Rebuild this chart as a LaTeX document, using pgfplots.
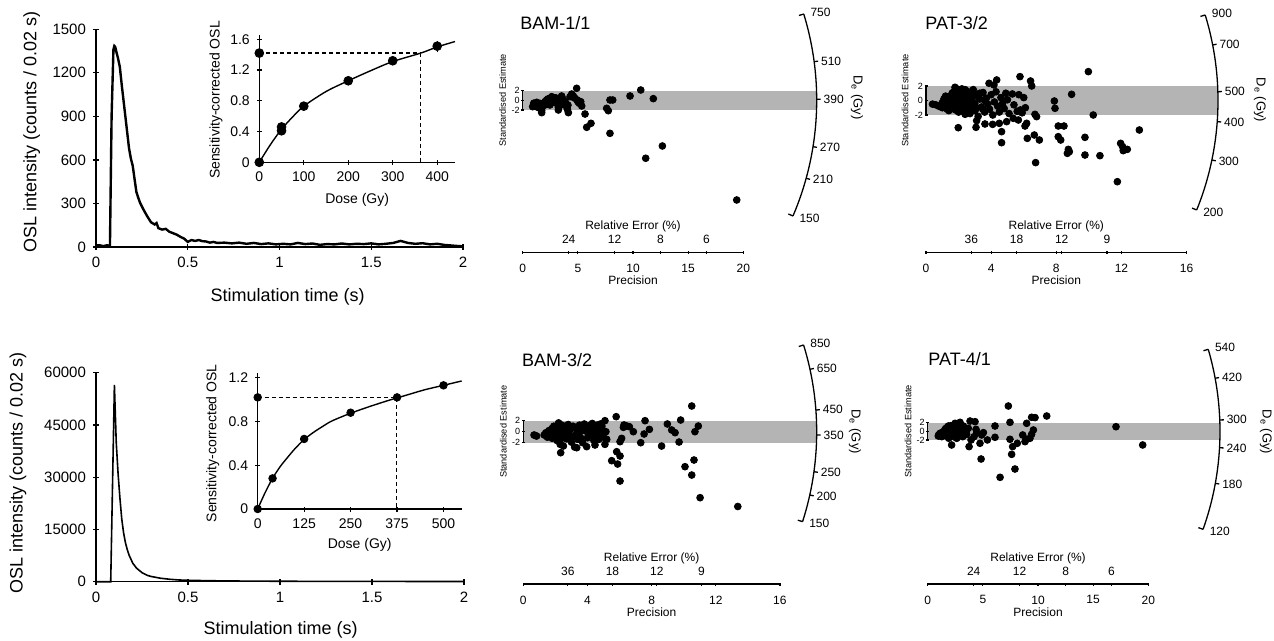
\documentclass[border=0pt]{standalone}
\usepackage{fontspec}
\setmainfont{Liberation Sans}
\usepackage{pgfplots}
\pgfplotsset{compat=1.18}

\definecolor{bandgray}{RGB}{180,180,180}
\newcommand{\fs}[1]{\fontsize{#1}{#1}\selectfont}

\pgfplotsset{
  mybase/.style={scale only axis, clip=false,
    /pgf/number format/assume math mode=true,
    /pgf/number format/1000 sep={},
    scaled ticks=false,
    tick align=outside,
    tick style={black, line width=0.6pt},
  },
  noarrow/.style={axis line style={-, line width=0.6pt},
    every outer x axis line/.append style={-},
    every outer y axis line/.append style={-}},
  decay/.style={mybase, axis lines=left, noarrow, major tick length=3pt,
    ticklabel style={font=\fs{7.5}},
    label style={font=\fs{9}},
  },
  inset/.style={mybase, axis lines=left, noarrow, major tick length=2.5pt,
    ticklabel style={font=\fs{7}},
    label style={font=\fs{7}},
  },
  cloud/.style={mybase, hide axis},
  bracket/.style={mybase, axis x line=none, axis y line=left, noarrow,
    xmin=0, xmax=1, ymin=-2, ymax=2, width=1pt, ytick={-2,0,2},
    major tick length=1.5pt,
    yticklabel style={font=\fs{4.5}, inner sep=0.6pt},
  },
  prec/.style={mybase, axis x line=bottom, axis y line=none, noarrow,
    ymin=0, ymax=1, height=5pt, major tick length=1.5pt,
    xticklabel style={font=\fs{6}, anchor=center, yshift=-7.2pt},
    xlabel={Precision},
    every axis x label/.style={at={(axis description cs:0.5,0)},
      anchor=center, yshift=-14.2pt, font=\fs{6}},
  },
  relerr/.style={mybase, axis x line=top, axis y line=none, noarrow,
    ymin=0, ymax=1, height=5pt, major tick length=1.5pt,
    xticklabel style={font=\fs{6}, anchor=center, yshift=5.8pt},
    xlabel={Relative Error (\%)},
    every axis x label/.style={at={(axis description cs:0.5,1)},
      anchor=center, yshift=12.8pt, font=\fs{6}},
  },
  raddot/.style={only marks, mark=*, mark size=1.7pt, black},
}

% radial-plot De scale: #1 centre, #2 radius (pt), #3/#4 top angle/label,
% #5/#6 bottom angle/label, #7 inner ticks angle/label
\newcommand{\radarc}[7]{%
\begin{scope}[shift={#1}]
  \pgfmathsetmacro\Ro{#2}
  \pgfmathsetmacro\Rin{#2-2.5}
  \pgfmathsetmacro\Rout{#2+2}
  \pgfmathsetmacro\Rlab{#2+2.8}
  \draw[line width=0.65pt] (#3:\Ro pt) arc[start angle=#3, end angle=#5, radius=\Ro pt];
  \draw[line width=0.65pt] (#3:\Ro pt) -- (#3:\Rin pt);
  \draw[line width=0.65pt] (#5:\Ro pt) -- (#5:\Rin pt);
  \node[anchor=west, font=\fs{6}, inner sep=0.5pt] at (#3:\Rlab pt) {#4};
  \node[anchor=west, font=\fs{6}, inner sep=0.5pt] at (#5:\Rlab pt) {#6};
  \foreach \a/\l in {#7} {
    \draw[line width=0.65pt] (\a:\Ro pt) -- (\a:\Rout pt);
    \node[anchor=west, font=\fs{6}, inner sep=0.5pt] at (\a:\Rlab pt) {\l};
  }
\end{scope}}

\newcommand{\stdlabel}[1]{\node[rotate=90, font=\fs{4.6}] at #1 {Standardised Estimate};}

\begin{document}
\begin{tikzpicture}
\useasboundingbox (0,0) rectangle (637pt,-320.5pt);

% ---------- top decay curve ----------
\begin{axis}[decay, at={(48pt,-123.5pt)}, anchor=south west,
  width=183.5pt, height=108.85pt,
  xmin=0, xmax=2, ymin=0, ymax=1500,
  xtick={0,0.5,1,1.5,2}, ytick={0,300,600,900,1200,1500},
  xlabel={Stimulation time (s)}, ylabel={OSL intensity (counts / 0.02 s)},
  xlabel style={at={(axis description cs:0.522,-0.228)}, anchor=center},
  ylabel style={at={(axis description cs:-0.175,0.53)}, anchor=center},
]
\addplot[black, line width=1.2pt] coordinates {
(0,10)(0.02,12)(0.04,6)(0.06,12)(0.076,8)(0.085,900)(0.095,1360)(0.1,1385)(0.105,1378)
(0.11,1350)(0.12,1300)(0.13,1240)(0.14,1120)(0.15,1010)(0.16,900)(0.17,790)(0.18,680)
(0.19,610)(0.2,560)(0.21,470)(0.22,380)(0.23,340)(0.24,305)(0.26,255)(0.28,210)(0.3,170)
(0.32,155)(0.33,165)(0.34,130)(0.36,120)(0.38,125)(0.4,105)(0.42,95)(0.44,85)(0.46,70)
(0.48,58)(0.5,35)(0.52,48)(0.54,42)(0.56,48)(0.58,40)(0.6,38)(0.62,30)(0.64,35)(0.66,28)
(0.7,30)(0.74,25)(0.78,30)(0.82,22)(0.86,28)(0.9,20)(0.94,25)(0.98,18)(1.02,22)(1.06,18)
(1.1,28)(1.14,20)(1.18,24)(1.22,15)(1.26,20)(1.3,18)(1.34,24)(1.38,18)(1.42,22)(1.46,20)
(1.5,25)(1.54,18)(1.58,22)(1.62,28)(1.66,42)(1.7,28)(1.74,22)(1.78,26)(1.82,18)(1.86,22)
(1.9,14)(1.94,10)(1.98,6)(2.0,5)};
\end{axis}

% ---------- top inset: dose response ----------
\begin{axis}[inset, at={(129.65pt,-81.15pt)}, anchor=south west,
  width=97.85pt, height=63.45pt,
  xmin=0, xmax=440, ymin=0, ymax=1.65,
  xtick={0,100,200,300,400}, ytick={0,0.4,0.8,1.2,1.6},
  xlabel={Dose (Gy)}, ylabel={Sensitivity-corrected OSL},
  xlabel style={at={(axis description cs:0.5,-0.297)}, anchor=center},
  ylabel style={at={(axis description cs:-0.221,0.491)}, anchor=center},
]
\addplot[black, line width=0.6pt, dash pattern=on 2pt off 1.5pt] coordinates {(0,1.42)(363,1.42)(363,0)};
\addplot[black, line width=0.7pt, smooth] coordinates {
(0,0)(25,0.23)(50,0.43)(75,0.59)(100,0.73)(150,0.92)(200,1.06)(250,1.19)(300,1.31)(363,1.42)(400,1.50)(440,1.57)};
\addplot[only marks, mark=*, mark size=2.2pt, black,
  error bars/.cd, y dir=both, y explicit, error mark=none,
  error bar style={line width=0.7pt, black}] coordinates {
(0,0) +- (0,0)
(50,0.41) +- (0,0.02)
(50,0.46) +- (0,0.02)
(100,0.73) +- (0,0.02)
(200,1.06) +- (0,0.05)
(300,1.32) +- (0,0.06)
(400,1.51) +- (0,0.07)
(0,1.42) +- (0,0)};
\end{axis}

% ---------- bottom decay curve ----------
\begin{axis}[decay, at={(48pt,-290.85pt)}, anchor=south west,
  width=184pt, height=104.5pt,
  xmin=0, xmax=2, ymin=0, ymax=60000,
  xtick={0,0.5,1,1.5,2}, ytick={0,15000,30000,45000,60000},
  xlabel={Stimulation time (s)}, ylabel={OSL intensity (counts / 0.02 s)},
  xlabel style={at={(axis description cs:0.502,-0.231)}, anchor=center},
  ylabel style={at={(axis description cs:-0.212,0.519)}, anchor=center},
]
\addplot[black, line width=0.8pt] coordinates {
(0,0)(0.08,0)(0.1,56500)(0.11,40000)(0.12,31000)(0.13,24000)(0.14,18000)(0.15,14000)
(0.16,11200)(0.17,9200)(0.18,7600)(0.2,5300)(0.22,3900)(0.25,2600)(0.28,1800)(0.3,1500)
(0.35,1000)(0.4,700)(0.45,500)(0.5,400)(0.6,300)(0.7,220)(0.8,180)(1,130)(1.2,100)
(1.5,80)(2,60)};
\end{axis}

% ---------- bottom inset ----------
\begin{axis}[inset, at={(128.85pt,-254.5pt)}, anchor=south west,
  width=102pt, height=67.85pt,
  xmin=0, xmax=549, ymin=0, ymax=1.24,
  xtick={0,125,250,375,500}, ytick={0,0.4,0.8,1.2},
  xlabel={Dose (Gy)}, ylabel={Sensitivity-corrected OSL},
  xlabel style={at={(axis description cs:0.5,-0.265)}, anchor=center},
  ylabel style={at={(axis description cs:-0.22,0.484)}, anchor=center},
]
\addplot[black, line width=0.6pt, dash pattern=on 2pt off 1.5pt] coordinates {(0,1.02)(374,1.02)(374,0)};
\addplot[black, line width=0.7pt, smooth] coordinates {
(0,0)(20,0.15)(40,0.28)(60,0.385)(80,0.47)(100,0.55)(125,0.635)(150,0.70)(175,0.755)
(200,0.805)(250,0.875)(300,0.935)(350,0.99)(375,1.015)(400,1.04)(450,1.09)(500,1.13)(549,1.17)};
\addplot[only marks, mark=*, mark size=1.9pt, black] coordinates {
(0,0)(40,0.28)(125,0.64)(250,0.88)(375,1.02)(500,1.13)(0,1.02)};
\end{axis}

% ---------- BAM-1/1 ----------
\begin{axis}[cloud, at={(261.35pt,-110.525pt)}, anchor=south west,
  width=147pt, height=96.6pt, xmin=0, xmax=26.65, ymin=-25, ymax=15]
\addplot[fill=bandgray, draw=none] coordinates {(0,-2)(26.65,-2)(26.65,2)(0,2)} -- cycle;
\addplot[raddot] coordinates {
(0.90,-1.32)(1.12,-0.84)(1.27,-0.42)(1.42,-1.18)(1.57,-0.63)(1.57,-1.66)(1.72,-2.15)
(1.72,-2.56)(2.02,-0.28)(2.17,0.06)(2.32,-0.63)(2.47,0.41)(2.47,-0.97)(2.63,0.75)
(2.78,-0.28)(2.93,0.20)(3.08,-0.63)(3.23,-1.46)(3.23,-2.01)(3.38,0.41)(3.53,0.89)
(3.68,0.20)(3.83,-0.28)(3.93,-0.63)(3.99,-1.32)(4.05,-1.87)(4.14,-2.56)(4.29,0.75)
(4.44,1.30)(4.59,0.89)(4.74,0.41)(4.89,2.48)(4.95,0.06)(5.13,-0.63)(5.26,-0.28)
(5.35,-1.18)(5.65,-2.84)(5.80,-5.59)(6.19,-4.77)(7.61,-1.66)(7.76,-2.15)(7.91,0.06)
(8.16,0.06)(7.91,-6.84)(9.73,0.89)(10.70,2.13)(11.84,0.34)(12.66,-9.46)(11.15,-12.00)
(19.40,-20.64)(1.00,-0.60)(1.90,-1.00)(2.10,-0.90)(2.60,-0.50)(3.00,0.50)(3.50,-0.60)
(2.30,0.30)(2.80,0.50)(1.30,-1.40)(3.70,-0.90)(4.10,-1.00)(5.00,-0.30)(4.60,0.60)
(2.00,-0.70)(2.70,0.10)(3.20,-0.20)(3.40,-1.00)(1.80,-1.30)};
\end{axis}
\begin{axis}[bracket, at={(261.35pt,-54.98pt)}, anchor=south west, height=9.66pt]
\end{axis}
\begin{axis}[prec, at={(261.35pt,-126.15pt)}, anchor=south west,
  width=110.3pt, xmin=0, xmax=20, xtick={0,5,10,15,20}]
\end{axis}
\begin{axis}[relerr, at={(261.35pt,-126.15pt)}, anchor=north west,
  width=110.3pt, xmin=0, xmax=20, xtick={4.17,8.33,12.5,16.67}, xticklabels={24,12,8,6}]
\end{axis}

% ---------- PAT-3/2 ----------
\begin{axis}[cloud, at={(463pt,-104.625pt)}, anchor=south west,
  width=146pt, height=90.625pt, xmin=0, xmax=17.93, ymin=-15, ymax=10]
\addplot[fill=bandgray, draw=none] coordinates {(0,-2)(17.93,-2)(17.93,2)(0,2)} -- cycle;
\addplot[raddot] coordinates {
(0.4,-0.5)(0.6,-0.6)(0.8,-0.8)(1.0,-0.3)(1.0,-1.0)(1.1,0.2)(1.2,-0.6)(1.3,-1.2)(1.4,0.1)
(1.4,-0.4)(1.5,0.6)(1.5,-1.0)(1.6,-0.2)(1.6,1.0)(1.7,0.3)(1.7,-0.8)(1.8,1.4)(1.8,-1.3)
(1.9,0.0)(1.9,0.8)(2.0,-0.5)(2.0,1.2)(2.1,0.4)(2.1,-1.0)(2.2,1.6)(2.2,-0.2)(2.3,0.9)
(2.3,-1.5)(2.4,0.2)(2.4,-0.7)(2.5,1.3)(2.5,-1.2)(2.6,0.5)(2.6,-0.3)(2.7,1.0)(2.7,-1.8)
(2.8,0.0)(2.8,-0.9)(2.9,1.5)(3.0,-0.4)(3.0,-1.4)(3.1,0.6)(3.2,-2.2)(3.3,0.2)(3.4,-0.9)
(3.5,1.1)(3.6,-1.6)(3.7,0.3)(3.8,-0.5)(3.9,-1.2)(4.0,0.8)(4.1,-2.0)(4.2,-0.2)(4.3,1.2)
(4.4,-0.8)(4.5,-1.6)(4.6,0.4)(4.7,-0.4)(4.8,-1.1)(4.9,1.0)(5.0,0.1)(5.1,-1.8)(5.3,0.9)
(5.4,-0.6)(5.6,-1.5)(5.7,0.8)(5.8,-1.3)(5.9,-1.7)(6.0,0.4)(6.1,-1.0)
(1.2,0.6)(1.3,-0.1)(1.5,0.2)(1.6,-0.6)(1.7,1.2)(1.8,-0.4)(1.9,1.6)(2.0,0.4)(2.1,-0.6)
(2.2,0.8)(2.3,-0.1)(2.4,1.5)(2.5,0.6)(2.6,-1.0)(2.7,0.4)(2.8,1.2)(2.9,-0.6)(3.0,0.9)
(3.1,-1.1)(3.3,1.0)(3.5,-1.2)(3.6,0.0)(1.1,-0.7)(1.4,-1.4)(2.0,-1.6)(2.4,-1.9)};
\addplot[raddot] coordinates {
(5.77,3.29)(6.42,2.69)(6.49,2.0)(9.97,3.98)(8.94,0.85)(10.27,-2.0)(7.88,-0.07)(7.92,-1.08)
(6.69,-1.91)(6.79,-2.23)(6.08,-3.52)(6.18,-3.15)(6.65,-4.76)(6.96,-5.45)(6.22,-5.22)
(8.12,-3.52)(8.47,-3.52)(8.12,-4.99)(8.27,-5.45)(8.74,-6.74)(8.80,-7.06)(8.68,-7.29)
(9.76,-5.08)(9.76,-7.52)(10.68,-7.61)(11.95,-5.91)(12.07,-6.37)(12.22,-6.74)(12.36,-6.74)
(12.11,-6.92)(13.10,-4.07)(11.75,-11.2)(6.73,-8.57)(4.64,-4.30)(4.64,-5.82)(3.87,2.37)
(4.17,2.14)(4.34,2.83)(1.78,1.82)(1.98,-3.75)(3.07,-3.70)(3.11,-2.78)(3.62,-3.24)
(4.09,-3.29)(4.95,-2.92)(5.36,-2.46)(5.67,-2.69)(4.50,-3.15)};
\end{axis}
\begin{axis}[bracket, at={(463pt,-57.5pt)}, anchor=south west, height=14.5pt]
\end{axis}
\begin{axis}[prec, at={(463pt,-126.15pt)}, anchor=south west,
  width=130.3pt, xmin=0, xmax=16, xtick={0,4,8,12,16}]
\end{axis}
\begin{axis}[relerr, at={(463pt,-126.15pt)}, anchor=north west,
  width=130.3pt, xmin=0, xmax=16, xtick={2.78,5.56,8.33,11.11}, xticklabels={36,18,12,9}]
\end{axis}

% ---------- BAM-3/2 ----------
\begin{axis}[cloud, at={(261.65pt,-270.85pt)}, anchor=south west,
  width=146.7pt, height=82.5pt, xmin=0, xmax=18.29, ymin=-20, ymax=10]
\addplot[fill=bandgray, draw=none] coordinates {(0,-2)(18.29,-2)(18.29,2)(0,2)} -- cycle;
\addplot[raddot] coordinates {
(1.3,-0.6)(1.4,-0.2)(1.5,-1.0)(1.6,0.2)(1.7,-0.5)(1.8,0.6)(1.8,-1.2)(1.9,1.0)(2.0,-0.3)
(2.1,0.8)(2.1,-1.6)(2.2,1.6)(2.2,0.2)(2.3,-0.8)(2.3,-2.3)(2.4,1.2)(2.5,-0.1)(2.5,-2.6)
(2.6,0.7)(2.7,-1.3)(2.8,1.3)(2.8,-0.4)(2.9,0.3)(3.0,-1.9)(3.1,1.0)(3.1,-0.9)(3.2,-2.8)
(3.3,0.5)(3.4,-1.4)(3.5,1.2)(3.5,-0.2)(3.6,0.8)(3.7,-2.0)(3.8,1.4)(3.9,0.1)(4.0,-1.1)
(4.1,1.1)(4.2,-0.5)(4.3,0.6)(4.3,1.5)(4.4,-1.6)(4.5,0.3)(4.6,1.2)(4.6,-0.8)(4.7,0.9)
(4.8,-0.2)(4.8,1.4)(4.9,0.5)(5.0,-1.0)
(1.9,-0.5)(2.0,0.5)(2.4,-1.2)(2.6,-0.3)(2.9,-1.0)(3.0,0.9)(3.3,-0.5)(3.6,-1.2)(3.9,0.9)
(4.1,-0.2)(4.4,0.8)(4.5,-0.4)(4.7,-1.4)(4.9,1.0)
(10.50,4.67)(5.79,2.73)(7.59,2.0)(9.81,2.12)(5.09,2.0)(10.91,1.03)(8.98,1.40)(7.86,0.42)
(6.86,0.0)(9.25,0.31)(9.46,-0.18)(10.70,0.0)(7.53,-0.42)(7.32,-2.0)(8.62,-2.61)
(9.71,-1.88)(10.08,-6.36)(10.64,-5.15)(10.50,-7.88)(11.02,-12.0)(13.37,-13.6)(5.51,-5.27)
(5.88,-5.88)(5.82,-3.64)(6.03,-4.42)(6.03,-8.97)(2.33,-3.82)(3.33,-2.91)(3.95,-2.72)
(4.47,-2.42)(5.09,-2.30)(5.20,-1.39)(5.15,0.0)(6.03,-1.82)(6.13,-1.21)(6.24,0.79)
(6.45,1.04)(6.61,0.91)(6.28,1.22)(0.67,-0.6)(0.83,-0.79)(0.75,-0.7)};
\end{axis}
\begin{axis}[bracket, at={(261.65pt,-221.35pt)}, anchor=south west, height=11pt]
\end{axis}
\begin{axis}[prec, at={(261.65pt,-292pt)}, anchor=south west,
  width=128.3pt, xmin=0, xmax=16, xtick={0,4,8,12,16}]
\end{axis}
\begin{axis}[relerr, at={(261.65pt,-292pt)}, anchor=north west,
  width=128.3pt, xmin=0, xmax=16, xtick={2.78,5.56,8.33,11.11}, xticklabels={36,18,12,9}]
\end{axis}

% ---------- PAT-4/1 ----------
\begin{axis}[cloud, at={(463.85pt,-269.775pt)}, anchor=south west,
  width=146.15pt, height=86.6pt, xmin=0, xmax=26.5, ymin=-25, ymax=15]
\addplot[fill=bandgray, draw=none] coordinates {(0,-2)(26.5,-2)(26.5,2)(0,2)} -- cycle;
\addplot[raddot] coordinates {
(0.96,-1.09)(1.12,-0.47)(1.27,-1.24)(1.42,-0.08)(1.57,0.45)(1.72,-0.62)(1.87,1.22)
(2.02,0.30)(2.02,-1.24)(2.17,-0.32)(2.17,-3.16)(2.32,1.07)(2.38,-0.85)(2.48,1.84)
(2.57,0.15)(2.63,-1.62)(2.78,0.92)(2.87,-0.47)(2.93,2.07)(3.08,0.45)(3.17,-1.24)
(3.23,1.22)(3.38,-0.08)(3.53,-0.70)(3.68,0.69)
(1.0,-0.8)(1.3,-0.3)(1.6,-1.0)(1.8,0.2)(2.0,0.8)(2.2,-0.6)(2.4,0.4)(2.6,-0.2)(2.8,1.4)
(3.0,-0.9)(3.2,0.1)(2.1,1.3)(1.9,-1.6)(2.5,-1.4)
(1.5,-0.4)(1.7,0.8)(2.3,-0.1)(2.7,-0.9)(2.9,0.3)(3.3,0.6)(3.5,0.1)
(7.31,5.84)(10.79,3.53)(3.84,2.37)(4.29,2.22)(9.42,3.23)(9.73,3.16)(7.46,2.07)(8.97,1.84)
(6.10,1.22)(9.58,0.3)(9.42,-0.70)(8.61,-0.85)(8.97,-1.85)(9.27,-1.62)(8.82,-2.39)
(7.46,-1.85)(8.12,-2.77)(7.70,-3.54)(7.61,-5.32)(7.91,-8.71)(6.56,-10.63)(4.84,-6.40)
(3.75,-3.54)(4.74,-2.77)(3.93,-2.0)(5.41,-2.0)(6.10,-1.39)(5.05,-0.31)(4.89,-0.85)
(4.38,0.45)(4.44,-0.31)(4.20,-1.24)(17.07,1.06)(19.49,-3.16)};
\end{axis}
\begin{axis}[bracket, at={(463.85pt,-219.98pt)}, anchor=south west, height=8.66pt]
\end{axis}
\begin{axis}[prec, at={(463.85pt,-292pt)}, anchor=south west,
  width=110.3pt, xmin=0, xmax=20, xtick={0,5,10,15,20}]
\end{axis}
\begin{axis}[relerr, at={(463.85pt,-292pt)}, anchor=north west,
  width=110.3pt, xmin=0, xmax=20, xtick={4.17,8.33,12.5,16.67}, xticklabels={24,12,8,6}]
\end{axis}

% ---------- De arcs, titles, side labels ----------
\radarc{(261.35pt,-50.15pt)}{147}{17.07}{750}{-23.17}{150}{7.55/510,0.19/390,-9.08/270,-15.38/210}
\radarc{(463pt,-50.25pt)}{146}{17.03}{900}{-22.02}{200}{10.96/700,1.73/500,-4.16/400,-11.76/300}
\radarc{(261.65pt,-215.85pt)}{146.7}{17.19}{850}{-17.86}{150}{12.28/650,4.24/450,-0.64/350,-7.84/250,-12.46/200}
\radarc{(463.85pt,-215.65pt)}{146.15}{16.29}{540}{-19.59}{120}{10.45/420,2.22/300,-3.22/240,-10.25/180}

\stdlabel{(251.35pt,-50.15pt)}
\stdlabel{(452.5pt,-50.25pt)}
\stdlabel{(251.65pt,-215.85pt)}
\stdlabel{(454.1pt,-215.65pt)}

\node[rotate=-90, font=\fs{6.5}] at (428.5pt,-48.75pt) {D\textsubscript{e} (Gy)};
\node[rotate=-90, font=\fs{6.5}] at (630pt,-50pt) {D\textsubscript{e} (Gy)};
\node[rotate=-90, font=\fs{6.5}] at (427.5pt,-215.85pt) {D\textsubscript{e} (Gy)};
\node[rotate=-90, font=\fs{6.5}] at (633pt,-216pt) {D\textsubscript{e} (Gy)};

\node[anchor=west, inner sep=0pt, font=\fs{9}] at (260pt,-11.5pt) {BAM-1/1};
\node[anchor=west, inner sep=0pt, font=\fs{9}] at (462.5pt,-11.7pt) {PAT-3/2};
\node[anchor=west, inner sep=0pt, font=\fs{9}] at (260.85pt,-180pt) {BAM-3/2};
\node[anchor=west, inner sep=0pt, font=\fs{9}] at (464pt,-179.65pt) {PAT-4/1};
\end{tikzpicture}
\end{document}
